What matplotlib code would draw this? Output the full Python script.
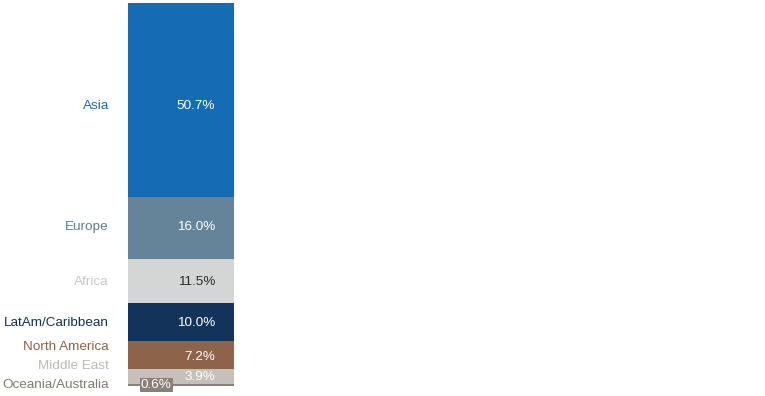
import matplotlib
matplotlib.use("Agg")
import matplotlib.pyplot as plt

plt.rcParams['font.family'] = ['Liberation Sans', 'DejaVu Sans']

regions = ["Asia", "Europe", "Africa", "LatAm/Caribbean", "North America", "Middle East", "Oceania/Australia"]
shares = [50.7, 16.0, 11.5, 10.0, 7.2, 3.9, 0.6]
value_labels = ["50.7%", "16.0%", "11.5%", "10.0%", "7.2%", "3.9%", "0.6%"]

colors = ["#136cb4", "#65849a", "#d4d5d5", "#14335b", "#8d634a", "#c5c1ba", "#8b7f77"]
label_colors = ["#1a6db5", "#5f7d93", "#c8c8c8", "#14325a", "#8c6248", "#bdbab4", "#85786f"]
value_colors = ["white", "white", "#2b2b2b", "white", "white", "white", "white"]
# label nudges in pixels (positive = up) so the small segments don't collide
name_nudge = [-6, 1, -1, -1, 8, 10, 0]
value_nudge = [-6, 1, -1, -1, -2, -1, 0]

fig = plt.figure(figsize=(7.65, 3.96), dpi=100)
ax = fig.add_axes([128 / 765, 10 / 396, 106 / 765, 383 / 396])

bottom = 0
mids = []
for s, c in zip(shares, colors):
    ax.bar(0, s, bottom=bottom, width=1.0, color=c, edgecolor="none")
    mids.append(bottom + s / 2)
    bottom += s

ax.set_xlim(-0.5, 0.5)
ax.set_ylim(bottom, 0)
ax.axis("off")

px = 0.72  # points per pixel at 100 dpi
fs = 9.7
for i, (name, m) in enumerate(zip(regions, mids)):
    ax.annotate(name, xy=(-0.5, m), xytext=(-19 * px, name_nudge[i] * px),
                textcoords="offset points", ha="right", va="center",
                fontsize=fs, color=label_colors[i], annotation_clip=False)
    if i == len(regions) - 1:
        ax.annotate(value_labels[i], xy=(-0.5, m), xytext=(13 * px, value_nudge[i] * px),
                    textcoords="offset points", ha="left", va="center",
                    fontsize=fs, color=value_colors[i], annotation_clip=False,
                    bbox=dict(boxstyle="square,pad=0.08", fc="#8b7f77", ec="none"))
    else:
        ax.annotate(value_labels[i], xy=(0.5, m), xytext=(-19 * px, value_nudge[i] * px),
                    textcoords="offset points", ha="right", va="center",
                    fontsize=fs, color=value_colors[i], annotation_clip=False)

fig.savefig("out.png", dpi=100)
